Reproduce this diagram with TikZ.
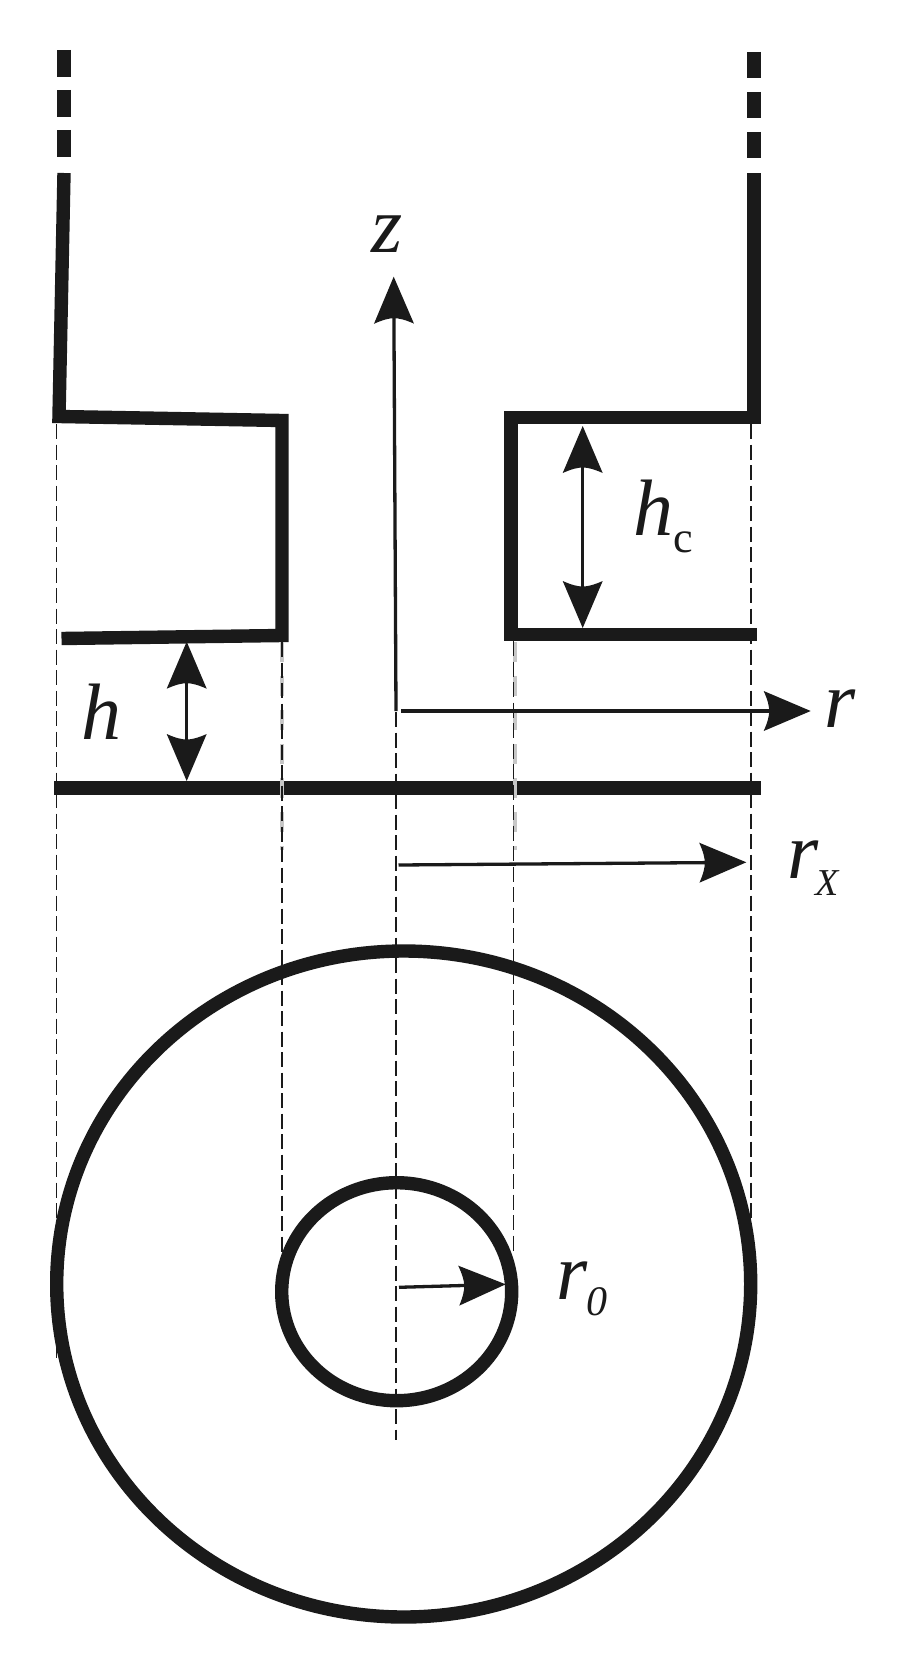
\documentclass[tikz,border=0pt]{standalone}
\usepackage{fontspec}
\setmainfont{Liberation Serif}
\usetikzlibrary{arrows.meta}
\definecolor{ink}{HTML}{1A1A1A}
\pgfdeclarearrow{
  name=Hd,
  setup code={
    \pgfarrowssettipend{0pt}
    \pgfarrowssetlineend{-40pt}
    \pgfarrowssetvisualbackend{-47pt}
    \pgfarrowssetbackend{-47pt}
    \pgfarrowshullpoint{0pt}{0pt}
    \pgfarrowshullpoint{-47pt}{20pt}
    \pgfarrowshullpoint{-47pt}{-20pt}
  },
  drawing code={
    \pgfsetfillcolor{ink}
    \pgfpathmoveto{\pgfqpoint{0pt}{0pt}}
    \pgfpathlineto{\pgfqpoint{-47pt}{20pt}}
    \pgfpathcurveto{\pgfqpoint{-43pt}{11pt}}{\pgfqpoint{-41.5pt}{5pt}}{\pgfqpoint{-41.5pt}{0pt}}
    \pgfpathcurveto{\pgfqpoint{-41.5pt}{-5pt}}{\pgfqpoint{-43pt}{-11pt}}{\pgfqpoint{-47pt}{-20pt}}
    \pgfpathclose
    \pgfusepathqfill
  }
}
\tikzset{
  thick line/.style={draw=ink,line width=13.4pt,miter limit=10,line cap=butt},
  guide/.style={draw=ink,line width=1.3pt,dash pattern=on 15pt off 5.5pt},
  ghost/.style={draw=black!22,line width=4pt,dash pattern=on 20pt off 14pt},
  arrowline/.style={draw=ink,line width=3.3pt},
  onehead/.style={arrowline,-{Hd}},
  twohead/.style={arrowline,{Hd}-{Hd}},
  lab/.style={inner sep=0pt,outer sep=0pt,anchor=base west,text=ink,font=\fontsize{80}{80}\selectfont\itshape},
}
\newcommand{\subc}{\raisebox{-17pt}{\fontsize{44}{44}\selectfont\upshape c}}
\newcommand{\subx}{\hspace{-3pt}\raisebox{-17pt}{\fontsize{38}{38}\selectfont X}}
\newcommand{\subo}{\hspace{-1pt}\raisebox{-16pt}{\fontsize{42}{42}\selectfont 0}}
\begin{document}
\begin{tikzpicture}[x=1pt,y=-1pt]
\useasboundingbox (0,0) rectangle (908,1675);
\fill[white] (0,0) rectangle (908,1675);

% ghost dashes
\draw[thick line] (64,173) -- (59,416.5) -- (282,420.5) -- (282,635.5) -- (61.5,638.5);
\draw[thick line] (754,173) -- (754,417.7) -- (511,417.7) -- (511,634.3) -- (756.7,634.3);
\draw[thick line] (54,788) -- (761,788);
\foreach \a/\b in {50/77,90/117,130/157}{
  \draw[thick line] (64,\a) -- (64,\b);
}
\foreach \a/\b in {52/78,92/118,132/158}{
  \draw[thick line] (754,\a) -- (754,\b);
}
\draw[ghost] (282,642) -- (282,850);
\draw[ghost] (514.5,642) -- (514.5,850);

% guides
\draw[guide] (56.5,424) -- (56.5,1358);
\draw[guide] (282,642) -- (282,1252);
\draw[guide] (396,712) -- (396,1440);
\draw[guide] (513.3,641) -- (513.3,1255);
\draw[guide] (751,424) -- (751,1222);

% rings
\draw[thick line] (403.7,1284) ellipse [x radius=347,y radius=333];
\draw[thick line] (396.7,1291.7) ellipse [x radius=115,y radius=109];

% arrows
\coordinate (zs) at (396,711);
\coordinate (zt) at (393.7,276.7);
\coordinate (hct) at (582.7,426);
\coordinate (hcb) at (582.7,628);
\coordinate (ht) at (186.7,641.7);
\coordinate (hb) at (186.7,781);
\coordinate (rs) at (401,711);
\coordinate (rt) at (810.7,711);
\coordinate (rxs) at (398.5,865);
\coordinate (rxt) at (746.3,862.3);
\coordinate (ros) at (399,1287.3);
\coordinate (rot) at (505.7,1284.3);
\draw[onehead] (zs) -- (zt);
\draw[twohead] (hct) -- (hcb);
\draw[twohead] (ht) -- (hb);
\draw[onehead] (rs) -- (rt);
\draw[onehead] (rxs) -- (rxt);
\draw[onehead] (ros) -- (rot);

% labels
\node[lab] (lz) at (371,252) {z};
\node[lab] (lh) at (81,739) {h};
\node[lab] (lhc) at (633,535) {h\subc};
\node[lab] (lr) at (824,727) {r};
\node[lab] (lrx) at (787,878) {r\subx};
\node[lab] (lro) at (556,1299) {r\subo};
\end{tikzpicture}
\end{document}
